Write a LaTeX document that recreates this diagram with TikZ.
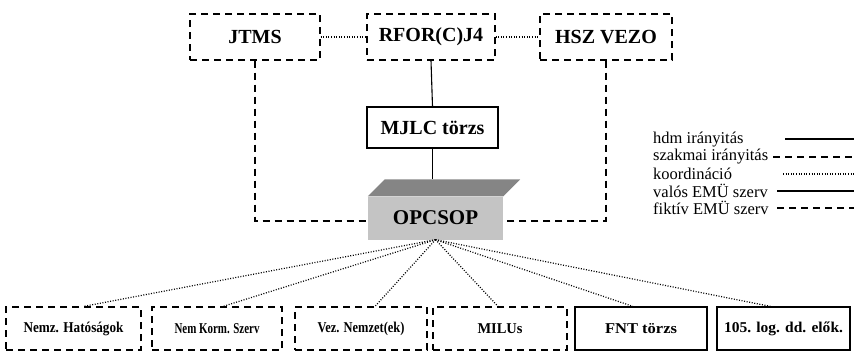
\documentclass[tikz,border=0pt]{standalone}
\usepackage{fontspec}
\setmainfont{LiberationSerif}[Extension=.ttf, UprightFont=*-Regular, BoldFont=*-Bold, ItalicFont=*-Italic, BoldItalicFont=*-BoldItalic]
\usetikzlibrary{calc}
\newcommand{\wfit}[2]{\resizebox{#1}{\height}{#2}}
\definecolor{topgray}{HTML}{858585}
\definecolor{frontgray}{HTML}{C4C4C4}
\tikzset{
  box/.style={draw, line width=1.2pt, inner sep=0pt, minimum height=46pt, minimum width=#1,
    font=\bfseries\fontsize{20}{22}\selectfont},
  dbox/.style={box=#1, dash pattern=on 7pt off 5pt},
  bbox/.style={draw, line width=1.2pt, inner sep=0pt, minimum height=43pt, minimum width=#1,
    font=\bfseries\fontsize{15}{17}\selectfont},
  dbbox/.style={bbox=#1, dash pattern=on 7pt off 5pt},
  dashln/.style={line width=1.2pt, dash pattern=on 7pt off 5pt},
  dotln/.style={line width=1.2pt, dash pattern=on 1pt off 1.6pt},
  solidln/.style={line width=1.1pt},
  leg/.style={anchor=west, inner sep=0pt, font=\fontsize{16.5}{18}\selectfont},
}
\begin{document}
\begin{tikzpicture}[x=1pt,y=-1pt]
\useasboundingbox (0,0) rectangle (854,362);
% top row
\node[dbox=130pt] (jtms) at (255,37) {JTMS};
\node[dbox=128pt] (rfor) at (431,37) {RFOR(C)J4};
\node[dbox=132pt] (hsz) at (606,37) {HSZ VEZO};
\node[box=131pt, minimum height=41pt] (mjlc) at (432.5,127.5) {MJLC törzs};
% OPCSOP block
\node[fill=frontgray, minimum width=135pt, minimum height=43pt, inner sep=0pt,
  font=\bfseries\fontsize{21}{23}\selectfont] (opc) at (435.5,218) {OPCSOP};
\coordinate (optop) at ($(opc.north west)+(17,-17)$);
\fill[topgray] (opc.north west) -- (optop) -- ($(opc.north east)+(17,-17)$) -- (opc.north east) -- cycle;
% bottom row
\node[dbbox=135pt] (b1) at (73.5,328.5) {\wfit{100pt}{Nemz. Hatóságok}};
\node[dbbox=130pt] (b2) at (217,328.5) {\wfit{85pt}{Nem Korm. Szerv}};
\node[dbbox=132pt] (b3) at (361,328.5) {\wfit{87pt}{Vez. Nemzet(ek)}};
\node[dbbox=134pt] (b4) at (500,328.5) {\wfit{45pt}{MILUs}};
\node[bbox=132pt] (b5) at (641,328.5) {\wfit{72pt}{FNT törzs}};
\node[bbox=133pt] (b6) at (783.5,328.5) {\wfit{119pt}{105. log. dd. elők.}};
% connectors
\draw[dotln] (jtms.east) -- (rfor.west);
\draw[dotln] (rfor.east) -- (hsz.west);
\draw[solidln] (rfor.south) -- (mjlc.north);
\draw[solidln] (mjlc.south) -- (mjlc.south |- optop);
\draw[dashln] (jtms.south) |- ([yshift=-3pt]opc.west);
\draw[dashln] (hsz.south) |- ([yshift=-3pt]opc.east);
\draw[dotln] (opc.south) -- ([xshift=10pt]b1.north);
\draw[dotln] (opc.south) -- ([xshift=6pt]b2.north);
\draw[dotln] (opc.south) -- ([xshift=14pt]b3.north);
\draw[dotln] (opc.south) -- ([xshift=-2pt]b4.north);
\draw[dotln] (opc.south) -- ([xshift=-8pt]b5.north);
\draw[dotln] (opc.south) -- ([xshift=-13pt]b6.north);
% legend
\node[leg] (l1) at (653,140) {hdm irányitás};
\node[leg] (l2) at (653,157) {szakmai irányitás};
\node[leg] (l3) at (653,174) {koordináció};
\node[leg] (l4) at (653,191) {valós EMÜ szerv};
\node[leg] (l5) at (653,208) {fiktív EMÜ szerv};
\coordinate (l1s) at (785,139); \coordinate (l1e) at (854,139);
\coordinate (l2s) at (773,157); \coordinate (l2e) at (854,157);
\coordinate (l3s) at (783,174); \coordinate (l3e) at (854,174);
\coordinate (l4s) at (777,191); \coordinate (l4e) at (854,191);
\coordinate (l5s) at (777,208); \coordinate (l5e) at (854,208);
\draw[solidln] (l1s) -- (l1e);
\draw[dashln] (l2s) -- (l2e);
\draw[dotln] (l3s) -- (l3e);
\draw[solidln] (l4s) -- (l4e);
\draw[dashln] (l5s) -- (l5e);
\end{tikzpicture}
\end{document}
